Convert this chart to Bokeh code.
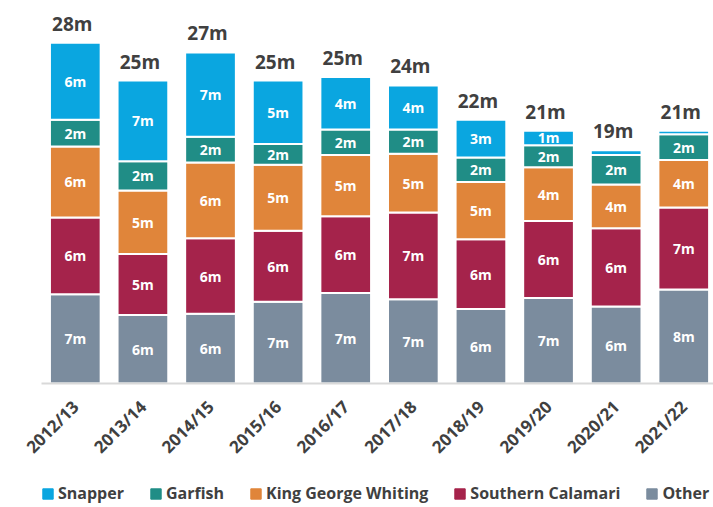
import math
from bokeh.plotting import figure
from bokeh.layouts import column
from bokeh.models import ColumnDataSource, Range1d, FixedTicker, Legend, LegendItem
from bokeh.core.properties import value
from bokeh.embed import file_html
from bokeh.resources import INLINE

years = ["2012/13", "2013/14", "2014/15", "2015/16", "2016/17",
         "2017/18", "2018/19", "2019/20", "2020/21", "2021/22"]
series = ["Other", "Southern Calamari", "King George Whiting", "Garfish", "Snapper"]
other = [7.3, 5.6, 5.7, 6.7, 7.4, 6.9, 6.1, 7.0, 6.3, 7.7]
calamari = [6.3, 5.0, 6.2, 5.8, 6.3, 7.1, 5.7, 6.3, 6.4, 6.7]
kgw = [5.8, 5.2, 6.2, 5.4, 5.0, 4.8, 4.7, 4.4, 3.6, 3.9]
garfish = [2.2, 2.4, 2.1, 1.7, 2.1, 2.0, 2.0, 1.8, 2.4, 2.1]
snapper = [6.3, 6.6, 6.9, 5.2, 4.3, 3.6, 3.1, 1.2, 0.4, 0.3]
colors = ["#7B8C9E", "#A5234B", "#E0853A", "#208D86", "#0AA6E0"]
legend_order = ["Snapper", "Garfish", "King George Whiting", "Southern Calamari", "Other"]

FONT = "Open Sans"
DARK = "#404040"

xs = list(range(len(years)))
data = {"x": xs, "Other": other, "Southern Calamari": calamari,
        "King George Whiting": kgw, "Garfish": garfish, "Snapper": snapper}
src = ColumnDataSource(data)

p = figure(width=713, height=483, output_backend="svg", toolbar_location=None,
           x_range=Range1d(-0.5, 9.44), y_range=Range1d(0, 30.7),
           min_border_left=41, min_border_right=0, min_border_top=8,
           min_border_bottom=100)
p.outline_line_color = None
p.grid.grid_line_color = None
p.yaxis.visible = False
p.background_fill_color = "white"

rs = p.vbar_stack(series, x="x", width=0.75, source=src, color=colors,
                  line_color="white", line_width=2)

# segment labels
lx, ly, lt = [], [], []
vals = [other, calamari, kgw, garfish, snapper]
for i in xs:
    base = 0.0
    for s in vals:
        v = s[i]
        if round(v) > 0:
            lx.append(i)
            ly.append(base + v / 2)
            lt.append(f"{round(v)}m")
        base += v
p.text(x="x", y="y", text="t", source=ColumnDataSource(dict(x=lx, y=ly, t=lt)),
       text_color="white", text_font=value(FONT), text_font_style="bold",
       text_font_size="14px", text_align="center", text_baseline="middle")

# totals
totals = [sum(s[i] for s in vals) for i in xs]
p.text(x="x", y="y", text="t",
       source=ColumnDataSource(dict(x=xs, y=totals, t=[f"{round(t)}m" for t in totals])),
       text_color=DARK, text_font=value(FONT), text_font_style="bold",
       text_font_size="19px", text_align="center", text_baseline="alphabetic",
       x_offset=-3, y_offset=-19)

ax = p.xaxis[0]
ax.ticker = FixedTicker(ticks=xs)
ax.major_label_overrides = {i: y for i, y in zip(xs, years)}
ax.major_label_orientation = math.pi / 4
ax.major_label_text_font = FONT
ax.major_label_text_font_style = "bold"
ax.major_label_text_font_size = "17px"
ax.major_label_text_color = DARK
ax.major_tick_line_color = None
ax.minor_tick_line_color = None
ax.major_tick_out = 0
ax.major_tick_in = 0
ax.minor_tick_out = 0
ax.minor_tick_in = 0
ax.axis_line_color = "#D9D9D9"
ax.axis_line_width = 2
ax.major_label_standoff = 20

# legend in its own strip
lg = figure(width=713, height=24, output_backend="svg", toolbar_location=None,
            x_range=Range1d(0, 1), y_range=Range1d(0, 1),
            x_axis_location=None, y_axis_location=None,
            min_border_left=0, min_border_right=0, min_border_top=0,
            min_border_bottom=0)
lg.outline_line_color = None
lg.grid.grid_line_color = None
items = []
for name in legend_order:
    c = colors[series.index(name)]
    r = lg.rect(x=[5], y=[5], width=1, height=1, fill_color=c, line_color=c)
    items.append(LegendItem(label=name, renderers=[r]))
legend = Legend(items=items, orientation="horizontal", location=(0, 3),
                label_text_font=FONT, label_text_font_style="bold",
                label_text_font_size="16px", label_text_color=DARK,
                glyph_width=13, glyph_height=13, label_standoff=4, spacing=25,
                border_line_color=None, background_fill_alpha=0,
                padding=0, margin=0)
lg.add_layout(legend)

layout = column(p, lg, spacing=0)
open("out.html", "w").write(file_html(layout, INLINE))
